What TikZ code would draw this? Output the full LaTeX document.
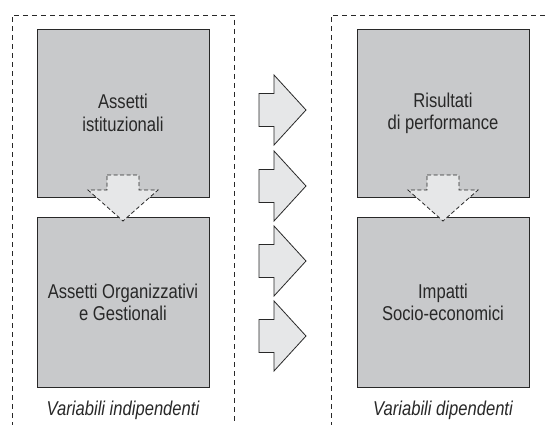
\documentclass[tikz,border=0pt]{standalone}
\usepackage{fontspec}
\setmainfont[FakeStretch=0.83]{Liberation Sans}
\definecolor{boxgray}{RGB}{200,201,203}
\definecolor{arrgray}{RGB}{230,231,232}
\definecolor{linec}{RGB}{40,40,40}
\tikzset{
  box/.style={draw=linec, fill=boxgray, line width=0.9pt, minimum width=172pt, inner sep=0pt,
    align=center, text=linec, font=\fontsize{20}{22.3}\selectfont},
  frame/.style={draw=linec, line width=0.9pt, dash pattern=on 5pt off 4pt},
  downarr/.style={draw=linec, fill=arrgray, line width=0.8pt, dash pattern=on 4pt off 2.5pt},
  rightarr/.style={draw=linec, fill=arrgray, line width=0.8pt, line join=miter},
  caption/.style={text=linec, font=\fontsize{20}{22.3}\selectfont\itshape, inner sep=0pt}
}
\begin{document}
\begin{tikzpicture}[x=1pt,y=-1pt]
\useasboundingbox (0,0) rectangle (546,425);
% frames
\draw[frame] (12,427) -- (12,15) -- (234,15) -- (234,427);
\draw[frame] (331,427) -- (331,15) -- (550,15);
% boxes
\node[box, minimum height=168pt] (ai) at (123,113) {Assetti\\istituzionali};
\node[box, minimum height=170pt] (ao) at (123,302) {Assetti Organizzativi\\e Gestionali};
\node[box, minimum height=168pt] (rp) at (443,113) {Risultati\\di performance};
\node[box, minimum height=170pt] (is) at (443,302) {Impatti\\Socio-economici};
% down arrows
\foreach \cx in {123,443}{
  \draw[downarr] (\cx-16,175) -- (\cx+16,175) -- (\cx+16,190) -- (\cx+35,190)
     -- (\cx,221) -- (\cx-35,190) -- (\cx-16,190) -- cycle;
}
% right arrows
\foreach \cy in {110,186,261,336}{
  \draw[rightarr] (259,\cy-16.5) -- (274,\cy-16.5) -- (274,\cy-35) -- (306,\cy)
     -- (274,\cy+35) -- (274,\cy+16.5) -- (259,\cy+16.5) -- cycle;
}
% captions
\node[caption, anchor=base] (vi) at (123,415.7) {Variabili indipendenti};
\node[caption, anchor=base] (vd) at (443,415.7) {Variabili dipendenti};
\end{tikzpicture}
\end{document}
